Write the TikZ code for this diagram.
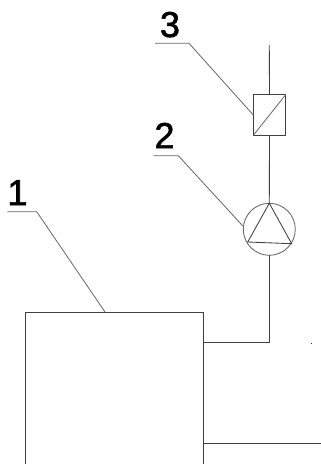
\documentclass[tikz,border=0pt]{standalone}
\usepackage{fontspec}
\setmainfont{Liberation Sans}
\newfontfamily\digitfont[FakeBold=1.6]{Liberation Sans}
\tikzset{
  pipe/.style={draw=black!75,line width=0.85pt},
  leader/.style={draw=black!60,line width=0.8pt},
  symbolbox/.style={draw=black!75,line width=0.85pt,minimum width=32.4pt,minimum height=40.6pt,inner sep=0pt,outer sep=0pt},
  pumpcircle/.style={circle,draw=black!60,line width=0.85pt,minimum size=52pt,inner sep=0pt,outer sep=0pt},
  digit/.style={font=\digitfont\fontsize{36}{36}\selectfont,text=black,inner sep=0pt,outer sep=0pt,anchor=base}
}
\begin{document}
\begin{tikzpicture}[x=1pt,y=-1pt]
\useasboundingbox (0,0) rectangle (321,464);
\fill[white] (0,0) rectangle (321,464);
% symbols
\node[symbolbox] (valve) at (269.5,115) {};
\node[pumpcircle] (pump) at (269.3,229.3) {};
% named points
\coordinate (pipetop) at (269.3,45);
\coordinate (tritop) at (269.3,203.3);
\coordinate (trileft) at (247.7,242);
\coordinate (triright) at (291.7,243.7);
\coordinate (boxbl) at (25,464);
\coordinate (boxtl) at (25,312);
\coordinate (boxtr) at (203,312);
\coordinate (boxbr) at (203,464);
\coordinate (outa) at (203,342.5);
\coordinate (outcorner) at (269.3,342.5);
\coordinate (outb) at (203,443.7);
\coordinate (outbend) at (321,443.7);
\coordinate (l1a) at (7.3,211.7);
\coordinate (l1b) at (36.7,211.7);
\coordinate (l1c) at (105,312);
\coordinate (l2a) at (153.3,155.7);
\coordinate (l2b) at (178.3,155.7);
\coordinate (l2c) at (243.5,226.7);
\coordinate (l3a) at (155,43.3);
\coordinate (l3b) at (189,43.3);
% pipes
\draw[pipe] (pipetop) -- (valve.north);
\draw[pipe] (valve.south) -- (pump.north);
\draw[pipe] (pump.south) -- (outcorner) -- (outa);
\draw[pipe] (boxbl) -- (boxtl) -- (boxtr) -- (boxbr);
\draw[pipe] (outb) -- (outbend);
% symbol interiors
\draw[leader] (valve.south west) -- (valve.north east);
\draw[pipe,line join=miter] (tritop) -- (trileft) -- (triright) -- cycle;
% leaders
\draw[leader] (l1a) -- (l1b) -- (l1c);
\draw[leader] (l2a) -- (l2b) -- (l2c);
\draw[leader] (l3a) -- (l3b) -- (valve.west);
% labels
\node[digit] (n1) at (17.5,205) {1};
\node[digit] (n2) at (164.5,148) {2};
\node[digit] (n3) at (170,37) {3};
% speck
\fill[black!80] (311.2,343) rectangle (312.2,344);
\end{tikzpicture}
\end{document}
